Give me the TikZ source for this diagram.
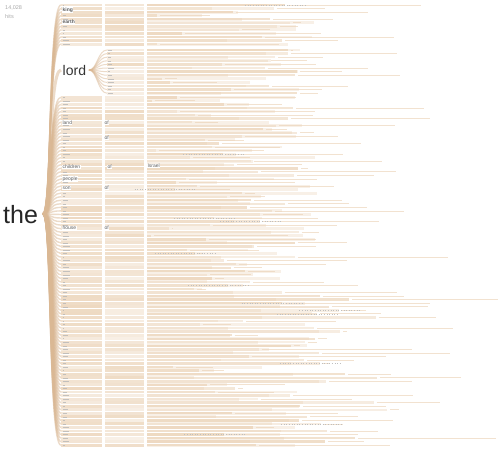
\documentclass[tikz,border=0pt]{standalone}
\usepackage{fontspec}
\setmainfont{Liberation Sans}
\definecolor{tanD}{RGB}{218,184,148}
\definecolor{tanM}{RGB}{234,208,178}
\definecolor{tanL}{RGB}{244,229,212}
\definecolor{labc}{RGB}{95,95,95}
\definecolor{hitc}{RGB}{170,170,170}
\begin{document}
\begin{tikzpicture}[x=1pt,y=-1pt,
  fanline/.style={tanD,line width=1.4pt,opacity=0.5},
  labmark/.style={labc!45,line width=0.5pt,opacity=0.8},
  wlab/.style={anchor=west,inner sep=0.4pt,fill=white,text=labc,font=\fontsize{5}{5}\selectfont},
  hitlab/.style={anchor=west,inner sep=0pt,text=hitc,font=\fontsize{5.5}{6}\selectfont}]
\useasboundingbox[fill=white] (0,0) rectangle (498,459);
\pgfmathsetseed{12}
\coordinate (fan) at (43,214);
\coordinate (lordfan) at (89,70);
% main rows
\foreach \r in {0,...,124}{
  \pgfmathsetmacro\yy{5+\r*3.55}
  \pgfmathtruncatemacro\skiprow{(\yy>46)&&(\yy<97)}
  \ifnum\skiprow=0
    \draw[fanline] (fan) .. controls (52,214) and (48,\yy) .. (61,\yy);
    \pgfmathsetmacro\oa{0.4+0.4*rnd}
    \fill[tanM,opacity=\oa] (61,\yy-1.45) rectangle (101.5,\yy+1.45);
    \pgfmathsetmacro\ob{0.3+0.45*rnd}
    \fill[tanM,opacity=\ob] (104.5,\yy-1.45) rectangle (144,\yy+1.45);
    \pgfmathsetmacro\Lzero{190+rnd*130}
    \fill[tanL,opacity=0.55] (147,\yy-1.45) rectangle (\Lzero,\yy+1.45);
    \pgfmathsetmacro\Lone{150+rnd*150+(\yy>290)*rnd*130}
    \pgfmathsetmacro\oc{0.3+0.4*rnd}
    \fill[tanM,opacity=\oc] (147,\yy-1.2) rectangle (\Lone,\yy+1.2);
    \pgfmathsetmacro\Ltwo{\Lone+4+rnd*150}
    \draw[tanM,line width=0.8pt,opacity=0.6] (\Lone+3,\yy) -- (\Ltwo,\yy);
    \pgfmathsetmacro\w{1.5+rnd*6}
    \draw[labmark] (62.5,\yy) -- ++(\w,0);
    \pgfmathtruncatemacro\dots{rnd<0.12}
    \ifnum\dots=1
      \draw[labc!40,line width=0.6pt,dotted] (\Lone-40,\yy) -- (\Lone+20,\yy);
    \fi
  \fi
}
% lord sub rows
\draw[fanline,line width=3pt] (fan) .. controls (52,214) and (48,70) .. (61,70);
\foreach \r in {0,...,12}{
  \pgfmathsetmacro\yy{50+\r*3.6}
  \draw[fanline,line width=1pt] (lordfan) .. controls (97,70) and (98,\yy) .. (107,\yy);
  \pgfmathsetmacro\ob{0.3+0.45*rnd}
  \fill[tanM,opacity=\ob] (107,\yy-1.45) rectangle (144,\yy+1.45);
  \pgfmathsetmacro\Lzero{190+rnd*120}
  \fill[tanL,opacity=0.55] (147,\yy-1.45) rectangle (\Lzero,\yy+1.45);
  \pgfmathsetmacro\Lone{160+rnd*140}
  \pgfmathsetmacro\oc{0.3+0.4*rnd}
  \fill[tanM,opacity=\oc] (147,\yy-1.2) rectangle (\Lone,\yy+1.2);
  \pgfmathsetmacro\Ltwo{\Lone+4+rnd*120}
  \draw[tanM,line width=0.8pt,opacity=0.6] (\Lone+3,\yy) -- (\Ltwo,\yy);
  \pgfmathsetmacro\w{1.5+rnd*5}
  \draw[labmark] (108,\yy) -- ++(\w,0);
}
% labels
\node[hitlab] (hits1) at (5,8) {14,028};
\node[hitlab] (hits2) at (5,17) {hits};
\node[anchor=west,inner sep=0pt,text=black!85,font=\fontsize{25}{25}\selectfont] (the) at (3,215) {the};
\node[anchor=west,inner sep=0.5pt,fill=white,text=black!80,font=\fontsize{14}{14}\selectfont] (lord) at (62,70) {lord};
\node[wlab,font=\fontsize{5}{5}\bfseries] (king) at (62,10) {king};
\node[wlab,font=\fontsize{5}{5}\bfseries] (earth) at (62,22) {earth};
\node[wlab] (land) at (62,123) {land};
\node[wlab] (ofa) at (104,123) {of};
\node[wlab] (ofb) at (104,138) {of};
\node[wlab] (children) at (62,167) {children};
\node[wlab] (ofc) at (107,167) {of};
\node[wlab] (israel) at (147,166) {Israel};
\node[wlab] (people) at (62,179) {people};
\node[wlab] (son) at (62,188) {son};
\node[wlab] (ofd) at (104,188) {of};
\node[wlab] (house) at (62,228) {house};
\node[wlab] (ofe) at (104,228) {of};
\end{tikzpicture}
\end{document}
